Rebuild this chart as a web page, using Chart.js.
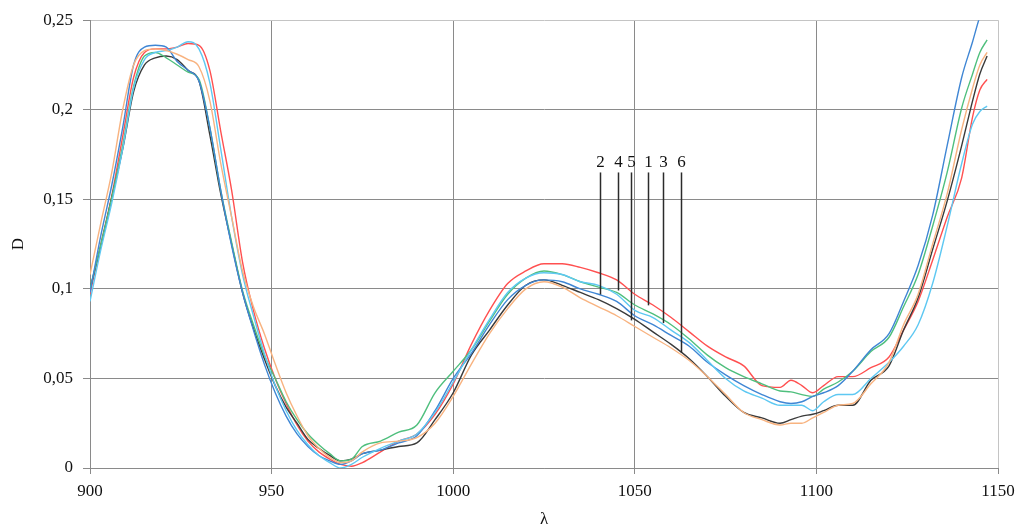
<!DOCTYPE html>
<html>
<head>
<meta charset="utf-8">
<script src="https://cdn.jsdelivr.net/npm/chart.js@4"></script>
<style>
  html, body { margin: 0; background: #fff; }
  #wrap { width: 1016px; height: 530px; }
</style>
</head>
<body>
<div id="wrap"><canvas id="spectra"></canvas></div>
<script>
// wavelength grid, nm
const lambda = [900, 903, 906, 909, 912, 915, 918, 921, 924, 927, 930, 933, 936, 939, 942, 945, 948, 951, 954, 957,
  960, 963, 966, 969, 972, 975, 980, 985, 990, 995, 1000, 1005, 1010, 1015, 1020, 1025, 1030, 1035, 1040, 1045,
  1050, 1055, 1060, 1065, 1070, 1075, 1080, 1085, 1090, 1093, 1096, 1099, 1102, 1106, 1110, 1115, 1120, 1124,
  1128, 1132, 1136, 1140, 1143, 1145, 1147];

// optical density D of each sample
const curveBlack = [0.100, 0.124, 0.151, 0.178, 0.210, 0.225, 0.229, 0.230, 0.228, 0.222, 0.216, 0.186, 0.153, 0.125, 0.098, 0.078, 0.061, 0.046, 0.034, 0.025,
  0.016, 0.011, 0.007, 0.004, 0.005, 0.008, 0.010, 0.012, 0.014, 0.027, 0.042, 0.063, 0.077, 0.091, 0.102, 0.105, 0.102, 0.098, 0.094, 0.089,
  0.083, 0.076, 0.069, 0.061, 0.051, 0.040, 0.031, 0.028, 0.025, 0.027, 0.029, 0.030, 0.032, 0.035, 0.035, 0.049, 0.057, 0.077,
  0.095, 0.122, 0.149, 0.180, 0.205, 0.220, 0.230];
const curveRed = [0.097, 0.125, 0.152, 0.185, 0.218, 0.232, 0.234, 0.234, 0.235, 0.237, 0.236, 0.222, 0.188, 0.155, 0.115, 0.088, 0.067, 0.050, 0.036, 0.024,
  0.015, 0.009, 0.005, 0.002, 0.001, 0.003, 0.009, 0.015, 0.019, 0.030, 0.047, 0.069, 0.088, 0.103, 0.110, 0.114, 0.114, 0.112, 0.109, 0.105,
  0.097, 0.091, 0.084, 0.076, 0.068, 0.062, 0.057, 0.046, 0.045, 0.049, 0.046, 0.042, 0.046, 0.051, 0.051, 0.056, 0.062, 0.077,
  0.093, 0.116, 0.140, 0.162, 0.196, 0.211, 0.217];
const curveGreen = [0.100, 0.125, 0.151, 0.180, 0.213, 0.230, 0.232, 0.229, 0.225, 0.221, 0.217, 0.190, 0.155, 0.126, 0.099, 0.080, 0.063, 0.050, 0.037, 0.027,
  0.019, 0.013, 0.008, 0.004, 0.005, 0.012, 0.015, 0.020, 0.024, 0.042, 0.054, 0.066, 0.082, 0.097, 0.106, 0.110, 0.108, 0.104, 0.101, 0.098,
  0.091, 0.086, 0.080, 0.072, 0.063, 0.056, 0.051, 0.047, 0.043, 0.0425, 0.041, 0.040, 0.044, 0.048, 0.054, 0.065, 0.073, 0.090,
  0.108, 0.135, 0.165, 0.201, 0.220, 0.232, 0.239];
const curveBlue = [0.098, 0.130, 0.158, 0.190, 0.225, 0.235, 0.236, 0.235, 0.227, 0.222, 0.216, 0.190, 0.155, 0.124, 0.098, 0.077, 0.058, 0.042, 0.029, 0.019,
  0.012, 0.007, 0.004, 0.002, 0.004, 0.008, 0.010, 0.014, 0.018, 0.032, 0.050, 0.064, 0.080, 0.094, 0.102, 0.105, 0.104, 0.100, 0.097, 0.093,
  0.085, 0.080, 0.074, 0.068, 0.059, 0.052, 0.046, 0.041, 0.037, 0.036, 0.037, 0.040, 0.042, 0.046, 0.054, 0.066, 0.075, 0.093,
  0.113, 0.141, 0.180, 0.218, 0.238, 0.252, 0.262];
const curveCyan = [0.093, 0.122, 0.148, 0.178, 0.212, 0.228, 0.232, 0.233, 0.235, 0.238, 0.234, 0.215, 0.178, 0.140, 0.108, 0.085, 0.064, 0.046, 0.032, 0.021,
  0.013, 0.007, 0.003, 0.000, 0.002, 0.006, 0.011, 0.015, 0.019, 0.031, 0.048, 0.066, 0.083, 0.098, 0.106, 0.109, 0.108, 0.104, 0.102, 0.097,
  0.088, 0.084, 0.077, 0.070, 0.060, 0.050, 0.043, 0.039, 0.035, 0.035, 0.035, 0.032, 0.037, 0.041, 0.041, 0.050, 0.059, 0.068,
  0.080, 0.103, 0.135, 0.170, 0.192, 0.199, 0.202];
const curveOrange = [0.108, 0.137, 0.165, 0.200, 0.225, 0.233, 0.234, 0.233, 0.231, 0.228, 0.224, 0.205, 0.170, 0.140, 0.110, 0.090, 0.075, 0.058, 0.042, 0.029,
  0.018, 0.011, 0.006, 0.003, 0.004, 0.009, 0.014, 0.015, 0.017, 0.025, 0.040, 0.058, 0.075, 0.089, 0.100, 0.104, 0.101, 0.095, 0.090, 0.085,
  0.079, 0.073, 0.067, 0.060, 0.051, 0.041, 0.031, 0.027, 0.024, 0.025, 0.025, 0.028, 0.031, 0.035, 0.036, 0.047, 0.059, 0.080,
  0.097, 0.125, 0.153, 0.189, 0.212, 0.225, 0.232];

// curve numbers with leader lines
const markerLabels = ['2', '4', '5', '1', '3', '6'];
const markerLambda = [1040.3, 1045.3, 1049.0, 1053.6, 1057.9, 1062.8];
const markerEnd = [0.0969, 0.0991, 0.0824, 0.0908, 0.0809, 0.0644];
const markerTop = 0.165;
const markerText = 0.1705;

const axisColor = '#8a8a8a';
const frameColor = '#c4c4c4';

Chart.defaults.font.family = '"Liberation Serif", "Times New Roman", serif';
Chart.defaults.color = '#111';

const toPoints = vals => lambda.map((x, i) => ({ x, y: vals[i] }));

function curve(vals, color) {
    return {
        data: toPoints(vals),
        borderColor: color,
        borderWidth: 1.4,
        pointRadius: 0,
        fill: false,
        cubicInterpolationMode: 'monotone'
    };
}

const curveMarkers = {
    id: 'curveMarkers',
    afterDatasetsDraw(chart) {
        const { ctx, scales: { x, y } } = chart;
        ctx.save();
        ctx.strokeStyle = '#2b2b2b';
        ctx.lineWidth = 1.5;
        ctx.fillStyle = '#111';
        ctx.font = '17px "Liberation Serif", serif';
        ctx.textAlign = 'center';
        ctx.textBaseline = 'middle';
        markerLabels.forEach((label, i) => {
            const px = Math.round(x.getPixelForValue(markerLambda[i])) + 0.5;
            ctx.beginPath();
            ctx.moveTo(px, y.getPixelForValue(markerTop));
            ctx.lineTo(px, y.getPixelForValue(markerEnd[i]));
            ctx.stroke();
            ctx.fillText(label, px, y.getPixelForValue(markerText));
        });
        ctx.restore();
    }
};

const fmtComma = v => String(Math.round(v * 100) / 100).replace('.', ',');

new Chart(document.getElementById('spectra'), {
    type: 'line',
    data: {
        datasets: [
            curve(curveOrange, '#f8b380'),
            curve(curveCyan, '#5ec8f2'),
            curve(curveBlue, '#3f86d4'),
            curve(curveGreen, '#4fbf7d'),
            curve(curveBlack, '#3a3a3a'),
            curve(curveRed, '#ff5050')
        ]
    },
    options: {
        responsive: true,
        maintainAspectRatio: false,
        animation: false,
        layout: { padding: { top: 19, right: 18, left: 0, bottom: 0 } },
        plugins: { legend: { display: false }, tooltip: { enabled: false } },
        scales: {
            x: {
                type: 'linear',
                min: 900,
                max: 1150,
                ticks: { stepSize: 50, padding: 7, maxRotation: 0, font: { size: 17 }, color: '#111', callback: v => String(v) },
                grid: {
                    color: c => (c.tick && c.tick.value === 1150 ? frameColor : axisColor),
                    tickColor: axisColor,
                    tickLength: 6
                },
                border: { color: axisColor },
                title: { display: true, text: 'λ', font: { size: 17 }, padding: { top: 0, bottom: 0 } },
                afterFit: s => { s.height = 62; s.paddingRight = 0; }
            },
            y: {
                min: 0,
                max: 0.25,
                ticks: { stepSize: 0.05, padding: 10, font: { size: 17 }, color: '#111', callback: fmtComma },
                grid: {
                    color: c => (c.tick && c.tick.value > 0.249 ? frameColor : axisColor),
                    tickColor: axisColor,
                    tickLength: 7
                },
                border: { color: axisColor },
                title: { display: true, text: 'D', font: { size: 17 }, padding: { top: 8, bottom: 0 } },
                afterFit: s => { s.width = 90; }
            }
        }
    },
    plugins: [curveMarkers]
});
</script>
</body>
</html>
